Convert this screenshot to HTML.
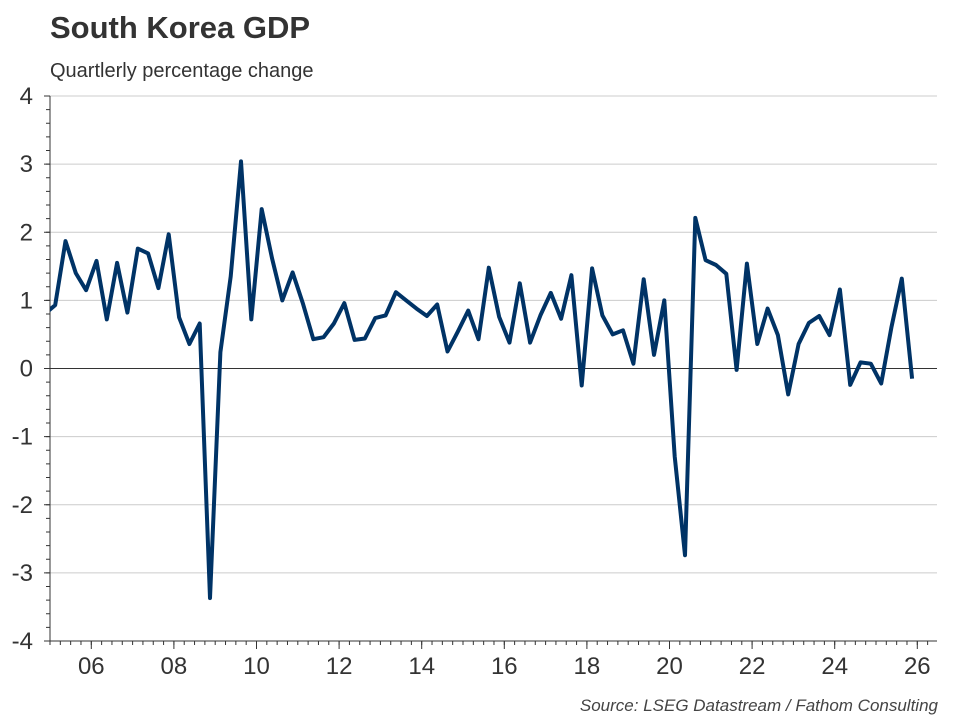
<!DOCTYPE html>
<html><head><meta charset="utf-8"><style>
body{margin:0;background:#fff;width:960px;height:720px;overflow:hidden;font-family:"Liberation Sans",sans-serif;}
svg text{font-family:"Liberation Sans",sans-serif;}
</style></head><body>
<svg id="chart" width="960" height="720" xmlns="http://www.w3.org/2000/svg">
<text x="50" y="38" font-size="31" font-weight="bold" fill="#333">South Korea GDP</text>
<text x="50" y="77" font-size="20" fill="#333">Quartlerly percentage change</text>
<text x="938" y="711" font-size="17" font-style="italic" fill="#444" text-anchor="end">Source: LSEG Datastream / Fathom Consulting</text>
<g id="grid"></g><g id="axes"></g>
<defs><clipPath id="plotclip"><rect x="50" y="80" width="890" height="570"/></clipPath></defs>
<g id="series" clip-path="url(#plotclip)"></g>
</svg>
<script>
const startYear = 2004.875; // first quarter midpoint (2004Q4)
const gdpValues = [0.80,
0.93,1.87,1.40,1.15, 1.58,0.72,1.55,0.82, 1.76,1.69,1.18,1.97, 0.75,0.36,0.66,-3.37,
0.24,1.35,3.04,0.72, 2.34,1.62,1.00,1.41, 0.95,0.43,0.46,0.66, 0.96,0.42,0.44,0.74,
0.78,1.12,1.00,0.88, 0.77,0.94,0.25,0.54, 0.85,0.43,1.48,0.76, 0.38,1.25,0.38,0.78,
1.11,0.73,1.37,-0.25, 1.47,0.78,0.50,0.56, 0.07,1.31,0.20,1.00, -1.29,-2.74,2.21,1.59,
1.52,1.39,-0.02,1.54, 0.36,0.88,0.49,-0.38, 0.36,0.67,0.77,0.49, 1.16,-0.24,0.09,0.07,
-0.22,0.61,1.32,-0.15];
const yTicks = [-4,-3,-2,-1,0,1,2,3,4];
const xTickLabels = ["06","08","10","12","14","16","18","20","22","24","26"];
const xTickYears = [2006,2008,2010,2012,2014,2016,2018,2020,2022,2024,2026];

const NS="http://www.w3.org/2000/svg";
const X0=50,X1=937,Y0=641,Y1=96;
const xScale=y=>X0+(y-2005)*41.3;
const yScale=v=>Y0-(v+4)/8*(Y0-Y1);
function mk(tag,attrs,parent){const e=document.createElementNS(NS,tag);for(const k in attrs)e.setAttribute(k,attrs[k]);document.getElementById(parent).appendChild(e);return e;}
// gridlines & y labels
yTicks.forEach(t=>{
  const y=yScale(t);
  if(t!==-4){const g=mk('line',{x1:X0,x2:X1,y1:y,y2:y,stroke:t===0?'#333':'#ccc','stroke-width':1},'grid');
  
  }
  const tx=mk('text',{x:33,y:y+8,'font-size':24,fill:'#333','text-anchor':'end'},'axes');
  tx.textContent=String(t);
  
  
  mk('line',{x1:X0-6,x2:X0,y1:y,y2:y,stroke:'#333'},'axes');
});
for(let v=-4;v<4;v+=0.2){const y=yScale(v);mk('line',{x1:X0-4,x2:X0,y1:y,y2:y,stroke:'#333'},'axes');}
const ya=mk('line',{x1:X0,x2:X0,y1:Y1,y2:Y0,stroke:'#333'},'axes');


const xa=mk('line',{x1:X0,x2:X1,y1:Y0,y2:Y0,stroke:'#333'},'axes');


for(let q=2005;q<=2026.3;q+=0.25){const x=xScale(q);if(x>X1)break;mk('line',{x1:x,x2:x,y1:Y0,y2:Y0+4,stroke:'#333'},'axes');}
xTickYears.forEach((yr,i)=>{
  const x=xScale(yr);
  mk('line',{x1:x,x2:x,y1:Y0,y2:Y0+8,stroke:'#333'},'axes');
  const tx=mk('text',{x:x,y:674,'font-size':24,fill:'#333','text-anchor':'middle'},'axes');
  tx.textContent=xTickLabels[i];
  
  
});
const pts=gdpValues.map((v,i)=>xScale(startYear+i*0.25).toFixed(1)+','+yScale(v).toFixed(1)).join(' ');
const line=mk('polyline',{points:pts,fill:'none',stroke:'#003366','stroke-width':4,'stroke-linejoin':'round'},'series');


</script>
</body></html>
